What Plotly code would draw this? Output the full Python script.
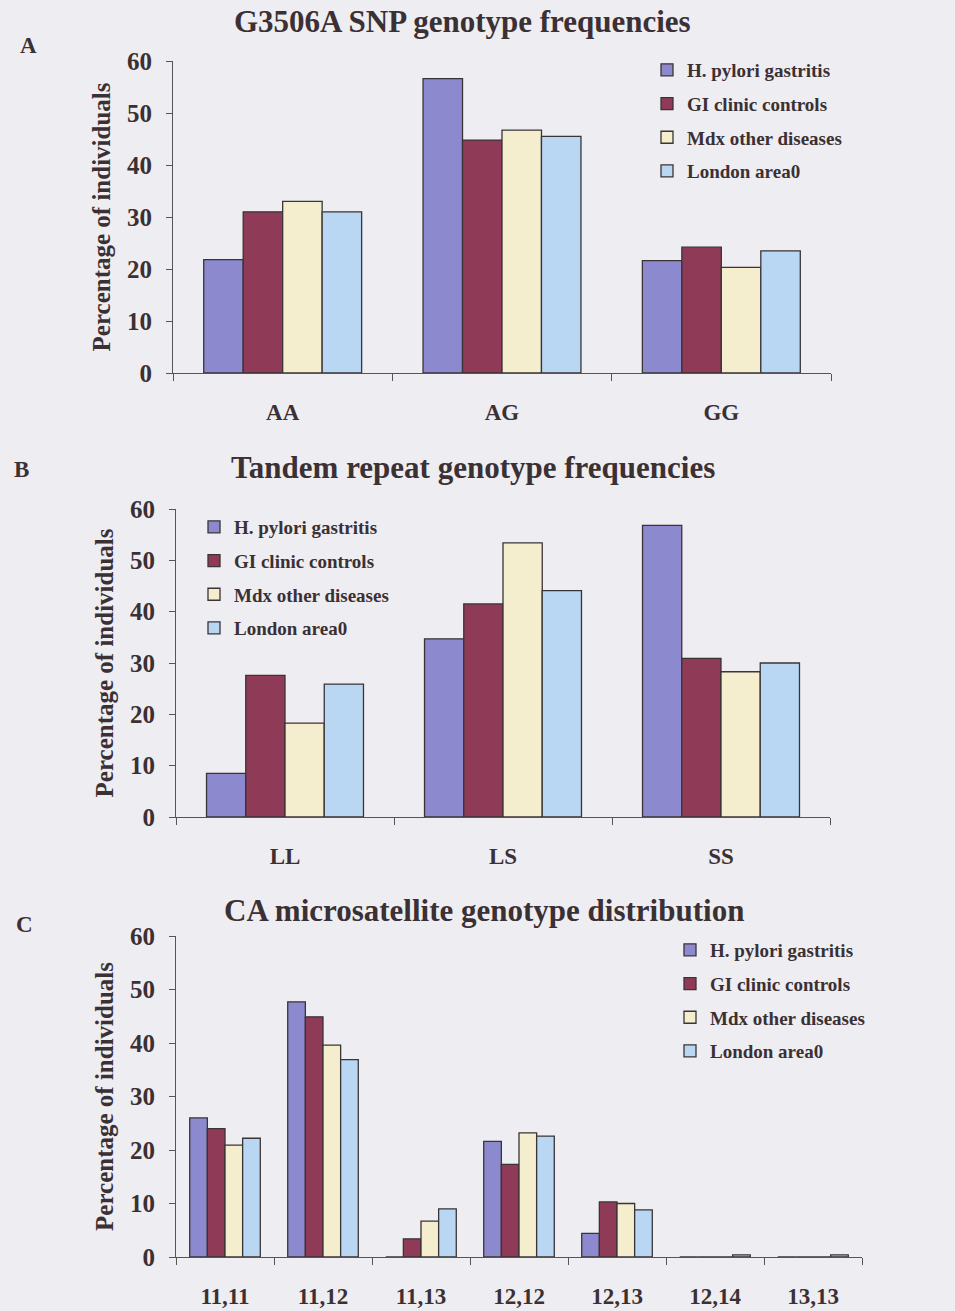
import plotly.graph_objects as go

# Series names and colours
series = ["H. pylori gastritis", "GI clinic controls", "Mdx other diseases", "London area0"]
colors = ["#8D89CF", "#8F3B57", "#F4EECF", "#B9D7F3"]

# A: G3506A SNP genotype frequencies (% of individuals)
snp_cats = ["AA", "AG", "GG"]
snp_hp = [21.8, 56.6, 21.6]
snp_gi = [31.0, 44.8, 24.2]
snp_mdx = [33.0, 46.7, 20.3]
snp_lon = [31.0, 45.5, 23.5]

# B: Tandem repeat genotype frequencies
tr_cats = ["LL", "LS", "SS"]
tr_hp = [8.5, 34.7, 56.8]
tr_gi = [27.6, 41.5, 30.9]
tr_mdx = [18.3, 53.4, 28.3]
tr_lon = [25.9, 44.1, 30.0]

# C: CA microsatellite genotype distribution
ca_cats = ["11,11", "11,12", "11,13", "12,12", "12,13", "12,14", "13,13"]
ca_hp = [26.0, 47.7, 0.0, 21.6, 4.4, 0.0, 0.0]
ca_gi = [24.0, 44.9, 3.4, 17.3, 10.3, 0.0, 0.0]
ca_mdx = [20.9, 39.6, 6.7, 23.2, 10.0, 0.0, 0.0]
ca_lon = [22.2, 36.9, 9.0, 22.6, 8.8, 0.4, 0.4]

W, H = 955, 1311
TXT = "#3B3033"
FONT = "Liberation Serif"

panels = [
    dict(cats=snp_cats, vals=[snp_hp, snp_gi, snp_mdx, snp_lon], xa="x", ya="y", leg="legend"),
    dict(cats=tr_cats, vals=[tr_hp, tr_gi, tr_mdx, tr_lon], xa="x2", ya="y2", leg="legend2"),
    dict(cats=ca_cats, vals=[ca_hp, ca_gi, ca_mdx, ca_lon], xa="x3", ya="y3", leg="legend3"),
]

fig = go.Figure()
for p in panels:
    for name, col, v in zip(series, colors, p["vals"]):
        fig.add_trace(go.Bar(
            x=p["cats"], y=v, name=name, xaxis=p["xa"], yaxis=p["ya"],
            legend=p["leg"], legendgroup=p["leg"] + name,
            marker=dict(color=col, line=dict(color="#3A3436", width=1.3)),
        ))


def px_x(v):
    return v / W


def px_y(v):
    return 1 - v / H


def xaxis_cfg(left, right, anchor):
    return dict(
        domain=[px_x(left), px_x(right)], anchor=anchor, automargin=False,
        showline=True, linecolor="#555", linewidth=1.2,
        ticks="outside", tickson="boundaries", ticklen=7, tickcolor="#555",
        ticklabelstandoff=18, showgrid=False,
        tickfont=dict(family=FONT, size=23, color=TXT, weight="bold"),
    )


def yaxis_cfg(top, bottom, anchor):
    return dict(
        domain=[px_y(bottom), px_y(top)], anchor=anchor, range=[0, 60],
        automargin=False, dtick=10, showline=True, linecolor="#555", linewidth=1.2,
        ticks="outside", ticklen=6, tickcolor="#555", showgrid=False,
        zeroline=False, ticklabelstandoff=9,
        tickfont=dict(family=FONT, size=25, color=TXT, weight="bold"),
        title=dict(text="<b>Percentage of individuals</b>", standoff=9,
                   font=dict(family=FONT, size=25, color=TXT)),
    )


def legend_cfg(x, y):
    return dict(
        x=px_x(x), y=px_y(y), xanchor="left", yanchor="top",
        bgcolor="rgba(0,0,0,0)", tracegroupgap=6, itemwidth=30,
        font=dict(family=FONT, size=19, color=TXT, weight="bold"),
    )


fig.update_layout(
    width=W, height=H, margin=dict(l=0, r=0, t=0, b=0, autoexpand=False),
    paper_bgcolor="#EEEDF1", plot_bgcolor="rgba(0,0,0,0)",
    barmode="group", bargap=0.28, bargroupgap=0.0,
    font=dict(family=FONT, color=TXT),
    xaxis=xaxis_cfg(173, 831, "y"), yaxis=yaxis_cfg(61, 373, "x"),
    xaxis2=xaxis_cfg(176, 830, "y2"), yaxis2=yaxis_cfg(509, 817, "x2"),
    xaxis3=xaxis_cfg(176, 862, "y3"), yaxis3=yaxis_cfg(936, 1257, "x3"),
    legend=legend_cfg(647, 51),
    legend2=legend_cfg(194, 508),
    legend3=legend_cfg(670, 931),
    showlegend=True,
)

titles = [
    ("<b>G3506A SNP genotype frequencies</b>", 462, 22),
    ("<b>Tandem repeat genotype frequencies</b>", 473, 468),
    ("<b>CA microsatellite genotype distribution</b>", 484, 910),
]
for text, cx, cy in titles:
    fig.add_annotation(text=text, x=px_x(cx), y=px_y(cy), xref="paper", yref="paper",
                       showarrow=False, xanchor="center", yanchor="middle",
                       font=dict(family=FONT, size=31, color=TXT))

for letter, lx, ly in [("A", 28, 45), ("B", 21, 470), ("C", 24, 925)]:
    fig.add_annotation(text="<b>%s</b>" % letter, x=px_x(lx), y=px_y(ly), xref="paper",
                       yref="paper", showarrow=False, xanchor="center", yanchor="middle",
                       font=dict(family=FONT, size=23, color=TXT))

fig.write_html("out.html")
